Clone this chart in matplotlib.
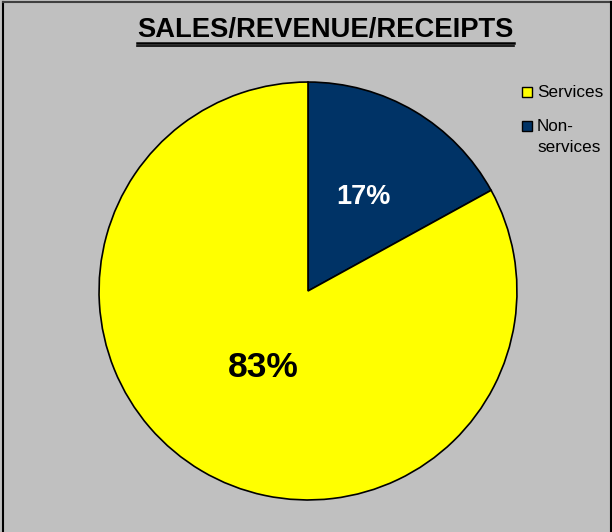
import matplotlib
matplotlib.use("Agg")
import matplotlib.pyplot as plt
from matplotlib.lines import Line2D
from matplotlib.patches import Rectangle
import numpy as np

plt.rcParams['font.family'] = ['Liberation Sans', 'DejaVu Sans']

categories = ["Non-services", "Services"]
values = [17, 83]
legend_order = ["Services", "Non-services"]
legend_labels = ["Services", "Non-\nservices"]
colors = {"Services": "#FFFF00", "Non-services": "#003366"}
title = "SALES/REVENUE/RECEIPTS"

W, H = 612, 532
fig = plt.figure(figsize=(W / 100, H / 100), dpi=100)
fig.patch.set_facecolor("#C0C0C0")

# pie axes: center (308,291), radius 210
cx, cy, r = 308, 291, 210
ax = fig.add_axes([(cx - r) / W, (H - cy - r) / H, 2 * r / W, 2 * r / H])
ax.set_facecolor("#C0C0C0")
wedges, _ = ax.pie(values, colors=[colors[c] for c in categories], startangle=90,
                   counterclock=False, wedgeprops=dict(edgecolor="black", linewidth=1.2))
ax.set_aspect("equal")
ax.set_xlim(-1.005, 1.005)
ax.set_ylim(-1.005, 1.005)

# labels
label_style = {
    "Non-services": dict(dist=0.52, color="white", size=19.5),
    "Services": dict(dist=0.425, color="black", size=25.5),
}
total = sum(values)
for w, cat, v in zip(wedges, categories, values):
    ang = np.deg2rad((w.theta1 + w.theta2) / 2)
    st = label_style[cat]
    ax.text(st["dist"] * np.cos(ang), st["dist"] * np.sin(ang), f"{round(100 * v / total)}%",
            ha="center", va="center", color=st["color"], fontsize=st["size"], fontweight="bold")

# title with double underline
t = fig.text(325.5 / W, 1 - 30 / H, title, ha="center", va="center", fontsize=19.7,
             fontweight="bold", color="black")
fig.canvas.draw()
bb = t.get_window_extent(fig.canvas.get_renderer())
x0, x1 = bb.x0 / W, bb.x1 / W
for yy, lw in [(42.5, 1.8), (45.5, 1.2)]:
    fig.add_artist(Line2D([x0, x1], [1 - yy / H, 1 - yy / H], color="black", lw=lw,
                          transform=fig.transFigure))

# legend (manual)
legend_rows = [92, 126]  # first-line centre, px from top
for cat, lab, yrow in zip(legend_order, legend_labels, legend_rows):
    fig.add_artist(Rectangle((522 / W, 1 - (yrow + 5) / H), 10 / W, 10 / H,
                             facecolor=colors[cat], edgecolor="black", linewidth=1,
                             transform=fig.transFigure))
    fig.text(537 / W, 1 - (yrow - 7) / H, lab, ha="left", va="top", fontsize=12.3,
             linespacing=1.5, color="black")

# border
fig.add_artist(Line2D([3.5 / W, 3.5 / W], [0, 1 - 1.5 / H], color="black", lw=1.5, transform=fig.transFigure))
fig.add_artist(Line2D([3.5 / W, 611 / W], [1 - 1.5 / H, 1 - 1.5 / H], color="#404040", lw=1.5, transform=fig.transFigure))
fig.add_artist(Line2D([611 / W, 611 / W], [0, 1 - 1.5 / H], color="black", lw=1.5, transform=fig.transFigure))

fig.savefig("out.png", dpi=100, facecolor=fig.get_facecolor())
